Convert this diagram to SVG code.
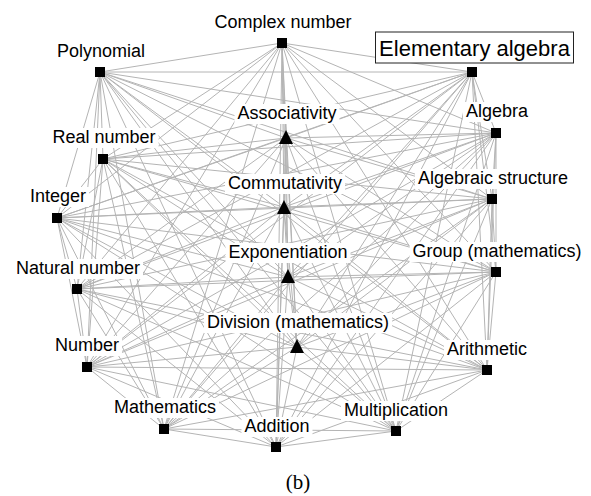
<svg xmlns="http://www.w3.org/2000/svg" width="591" height="496" viewBox="0 0 591 496">
<style>
.e{stroke:#b4b4b4;stroke-width:1;fill:none}
.lb{fill:#fff;stroke:none}
.t{font-family:"Liberation Sans",Arial,sans-serif;font-size:18px;fill:#000;text-anchor:middle}
.sq{fill:#000}
</style>
<rect width="591" height="496" fill="#fff"/>
<g id="connectors" class="e">
<line x1="282" y1="43" x2="100" y2="72"/><line x1="282" y1="43" x2="472" y2="72"/><line x1="282" y1="43" x2="286" y2="138"/><line x1="282" y1="43" x2="496" y2="133"/><line x1="282" y1="43" x2="103" y2="159"/><line x1="282" y1="43" x2="284" y2="207"/><line x1="282" y1="43" x2="492" y2="199"/><line x1="282" y1="43" x2="57" y2="218"/><line x1="282" y1="43" x2="288" y2="277"/><line x1="282" y1="43" x2="496" y2="272"/><line x1="282" y1="43" x2="77" y2="289"/><line x1="282" y1="43" x2="297" y2="347"/><line x1="282" y1="43" x2="87" y2="367"/><line x1="282" y1="43" x2="487" y2="370"/><line x1="282" y1="43" x2="164" y2="429"/><line x1="282" y1="43" x2="276" y2="447"/><line x1="282" y1="43" x2="396" y2="431"/>
<line x1="100" y1="72" x2="472" y2="72"/><line x1="100" y1="72" x2="286" y2="138"/><line x1="100" y1="72" x2="496" y2="133"/><line x1="100" y1="72" x2="103" y2="159"/><line x1="100" y1="72" x2="284" y2="207"/><line x1="100" y1="72" x2="492" y2="199"/><line x1="100" y1="72" x2="57" y2="218"/><line x1="100" y1="72" x2="288" y2="277"/><line x1="100" y1="72" x2="496" y2="272"/><line x1="100" y1="72" x2="77" y2="289"/><line x1="100" y1="72" x2="297" y2="347"/><line x1="100" y1="72" x2="87" y2="367"/><line x1="100" y1="72" x2="487" y2="370"/><line x1="100" y1="72" x2="164" y2="429"/><line x1="100" y1="72" x2="276" y2="447"/><line x1="100" y1="72" x2="396" y2="431"/>
<line x1="472" y1="72" x2="286" y2="138"/><line x1="472" y1="72" x2="496" y2="133"/><line x1="472" y1="72" x2="103" y2="159"/><line x1="472" y1="72" x2="284" y2="207"/><line x1="472" y1="72" x2="492" y2="199"/><line x1="472" y1="72" x2="57" y2="218"/><line x1="472" y1="72" x2="288" y2="277"/><line x1="472" y1="72" x2="496" y2="272"/><line x1="472" y1="72" x2="77" y2="289"/><line x1="472" y1="72" x2="297" y2="347"/><line x1="472" y1="72" x2="87" y2="367"/><line x1="472" y1="72" x2="487" y2="370"/><line x1="472" y1="72" x2="164" y2="429"/><line x1="472" y1="72" x2="276" y2="447"/><line x1="472" y1="72" x2="396" y2="431"/>
<line x1="286" y1="138" x2="496" y2="133"/><line x1="286" y1="138" x2="103" y2="159"/><line x1="286" y1="138" x2="284" y2="207"/><line x1="286" y1="138" x2="492" y2="199"/><line x1="286" y1="138" x2="57" y2="218"/><line x1="286" y1="138" x2="288" y2="277"/><line x1="286" y1="138" x2="496" y2="272"/><line x1="286" y1="138" x2="77" y2="289"/><line x1="286" y1="138" x2="297" y2="347"/><line x1="286" y1="138" x2="87" y2="367"/><line x1="286" y1="138" x2="487" y2="370"/><line x1="286" y1="138" x2="164" y2="429"/><line x1="286" y1="138" x2="276" y2="447"/><line x1="286" y1="138" x2="396" y2="431"/>
<line x1="496" y1="133" x2="103" y2="159"/><line x1="496" y1="133" x2="284" y2="207"/><line x1="496" y1="133" x2="492" y2="199"/><line x1="496" y1="133" x2="57" y2="218"/><line x1="496" y1="133" x2="288" y2="277"/><line x1="496" y1="133" x2="496" y2="272"/><line x1="496" y1="133" x2="77" y2="289"/><line x1="496" y1="133" x2="297" y2="347"/><line x1="496" y1="133" x2="87" y2="367"/><line x1="496" y1="133" x2="487" y2="370"/><line x1="496" y1="133" x2="164" y2="429"/><line x1="496" y1="133" x2="276" y2="447"/><line x1="496" y1="133" x2="396" y2="431"/>
<line x1="103" y1="159" x2="284" y2="207"/><line x1="103" y1="159" x2="492" y2="199"/><line x1="103" y1="159" x2="57" y2="218"/><line x1="103" y1="159" x2="288" y2="277"/><line x1="103" y1="159" x2="496" y2="272"/><line x1="103" y1="159" x2="77" y2="289"/><line x1="103" y1="159" x2="297" y2="347"/><line x1="103" y1="159" x2="87" y2="367"/><line x1="103" y1="159" x2="487" y2="370"/><line x1="103" y1="159" x2="164" y2="429"/><line x1="103" y1="159" x2="276" y2="447"/><line x1="103" y1="159" x2="396" y2="431"/>
<line x1="284" y1="207" x2="492" y2="199"/><line x1="284" y1="207" x2="57" y2="218"/><line x1="284" y1="207" x2="288" y2="277"/><line x1="284" y1="207" x2="496" y2="272"/><line x1="284" y1="207" x2="77" y2="289"/><line x1="284" y1="207" x2="297" y2="347"/><line x1="284" y1="207" x2="87" y2="367"/><line x1="284" y1="207" x2="487" y2="370"/><line x1="284" y1="207" x2="164" y2="429"/><line x1="284" y1="207" x2="276" y2="447"/><line x1="284" y1="207" x2="396" y2="431"/>
<line x1="492" y1="199" x2="57" y2="218"/><line x1="492" y1="199" x2="288" y2="277"/><line x1="492" y1="199" x2="496" y2="272"/><line x1="492" y1="199" x2="77" y2="289"/><line x1="492" y1="199" x2="297" y2="347"/><line x1="492" y1="199" x2="87" y2="367"/><line x1="492" y1="199" x2="487" y2="370"/><line x1="492" y1="199" x2="164" y2="429"/><line x1="492" y1="199" x2="276" y2="447"/><line x1="492" y1="199" x2="396" y2="431"/>
<line x1="57" y1="218" x2="288" y2="277"/><line x1="57" y1="218" x2="496" y2="272"/><line x1="57" y1="218" x2="77" y2="289"/><line x1="57" y1="218" x2="297" y2="347"/><line x1="57" y1="218" x2="87" y2="367"/><line x1="57" y1="218" x2="487" y2="370"/><line x1="57" y1="218" x2="164" y2="429"/><line x1="57" y1="218" x2="276" y2="447"/><line x1="57" y1="218" x2="396" y2="431"/>
<line x1="288" y1="277" x2="496" y2="272"/><line x1="288" y1="277" x2="77" y2="289"/><line x1="288" y1="277" x2="297" y2="347"/><line x1="288" y1="277" x2="87" y2="367"/><line x1="288" y1="277" x2="487" y2="370"/><line x1="288" y1="277" x2="164" y2="429"/><line x1="288" y1="277" x2="276" y2="447"/><line x1="288" y1="277" x2="396" y2="431"/>
<line x1="496" y1="272" x2="77" y2="289"/><line x1="496" y1="272" x2="297" y2="347"/><line x1="496" y1="272" x2="87" y2="367"/><line x1="496" y1="272" x2="487" y2="370"/><line x1="496" y1="272" x2="164" y2="429"/><line x1="496" y1="272" x2="276" y2="447"/><line x1="496" y1="272" x2="396" y2="431"/>
<line x1="77" y1="289" x2="297" y2="347"/><line x1="77" y1="289" x2="87" y2="367"/><line x1="77" y1="289" x2="487" y2="370"/><line x1="77" y1="289" x2="164" y2="429"/><line x1="77" y1="289" x2="276" y2="447"/><line x1="77" y1="289" x2="396" y2="431"/>
<line x1="297" y1="347" x2="87" y2="367"/><line x1="297" y1="347" x2="487" y2="370"/><line x1="297" y1="347" x2="164" y2="429"/><line x1="297" y1="347" x2="276" y2="447"/><line x1="297" y1="347" x2="396" y2="431"/>
<line x1="87" y1="367" x2="487" y2="370"/><line x1="87" y1="367" x2="164" y2="429"/><line x1="87" y1="367" x2="276" y2="447"/><line x1="87" y1="367" x2="396" y2="431"/>
<line x1="487" y1="370" x2="164" y2="429"/><line x1="487" y1="370" x2="276" y2="447"/><line x1="487" y1="370" x2="396" y2="431"/>
<line x1="164" y1="429" x2="276" y2="447"/><line x1="164" y1="429" x2="396" y2="431"/>
<line x1="276" y1="447" x2="396" y2="431"/>
</g>
<g id="complex-number"><rect class="lb" x="211.5" y="13" width="143" height="20"/><text class="t" x="283" y="28">Complex number</text><rect class="sq" x="277" y="38" width="10" height="10"/></g>
<g id="polynomial"><rect class="lb" x="54" y="42" width="94" height="20"/><text class="t" x="101" y="57">Polynomial</text><rect class="sq" x="95" y="67" width="10" height="10"/></g>
<g id="elementary-algebra"><rect x="375.5" y="32" width="198" height="31" fill="#fff" stroke="#222" stroke-width="1"/><text class="t" x="474.5" y="56" style="font-size:22px">Elementary algebra</text><rect class="sq" x="467" y="67" width="10" height="10"/></g>
<g id="associativity"><rect class="lb" x="234.5" y="104" width="105" height="20"/><text class="t" x="287" y="119">Associativity</text><polygon class="sq" points="286,130 279,144 293,144"/></g>
<g id="algebra"><rect class="lb" x="463" y="102" width="68" height="20"/><text class="t" x="497" y="117">Algebra</text><rect class="sq" x="491" y="128" width="10" height="10"/></g>
<g id="real-number"><rect class="lb" x="49.5" y="128" width="109" height="20"/><text class="t" x="104" y="143">Real number</text><rect class="sq" x="98" y="154" width="10" height="10"/></g>
<g id="commutativity"><rect class="lb" x="225" y="174" width="120" height="20"/><text class="t" x="285" y="189">Commutativity</text><polygon class="sq" points="284,200 277,214 291,214"/></g>
<g id="algebraic-structure"><rect class="lb" x="415" y="169" width="156" height="20"/><text class="t" x="493" y="184">Algebraic structure</text><rect class="sq" x="487" y="194" width="10" height="10"/></g>
<g id="integer"><rect class="lb" x="27" y="187" width="62" height="20"/><text class="t" x="58" y="202">Integer</text><rect class="sq" x="52" y="213" width="10" height="10"/></g>
<g id="exponentiation"><rect class="lb" x="225.5" y="243" width="125" height="20"/><text class="t" x="288" y="258">Exponentiation</text><polygon class="sq" points="288,269 281,283 295,283"/></g>
<g id="group-mathematics"><rect class="lb" x="409.5" y="242" width="175" height="20"/><text class="t" x="497" y="257">Group (mathematics)</text><rect class="sq" x="491" y="267" width="10" height="10"/></g>
<g id="natural-number"><rect class="lb" x="13" y="259" width="130" height="20"/><text class="t" x="78" y="274">Natural number</text><rect class="sq" x="72" y="284" width="10" height="10"/></g>
<g id="division-mathematics"><rect class="lb" x="204" y="313" width="188" height="20"/><text class="t" x="298" y="328">Division (mathematics)</text><polygon class="sq" points="297,339 290,353 304,353"/></g>
<g id="number"><rect class="lb" x="52" y="336" width="70" height="20"/><text class="t" x="87" y="351">Number</text><rect class="sq" x="82" y="362" width="10" height="10"/></g>
<g id="arithmetic"><rect class="lb" x="444" y="340" width="86" height="20"/><text class="t" x="487" y="355">Arithmetic</text><rect class="sq" x="482" y="365" width="10" height="10"/></g>
<g id="mathematics"><rect class="lb" x="111" y="398" width="108" height="20"/><text class="t" x="165" y="413">Mathematics</text><rect class="sq" x="159" y="424" width="10" height="10"/></g>
<g id="addition"><rect class="lb" x="241.5" y="417" width="71" height="20"/><text class="t" x="277" y="432">Addition</text><rect class="sq" x="271" y="442" width="10" height="10"/></g>
<g id="multiplication"><rect class="lb" x="341" y="401" width="110" height="20"/><text class="t" x="396" y="416">Multiplication</text><rect class="sq" x="391" y="426" width="10" height="10"/></g>
<text x="298" y="489" style="font-family:'Liberation Serif','Times New Roman',serif;font-size:21px;text-anchor:middle">(b)</text>
</svg>
